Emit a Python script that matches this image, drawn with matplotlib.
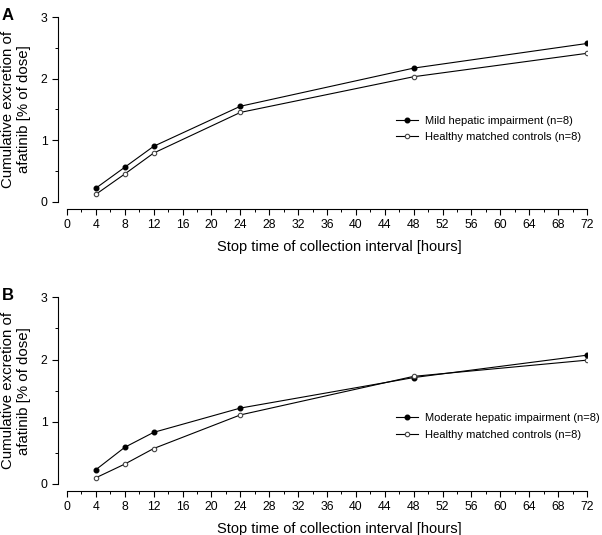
import matplotlib
matplotlib.use("Agg")
import matplotlib.pyplot as plt
from matplotlib.ticker import MultipleLocator

plt.rcParams["font.family"] = ["Liberation Sans", "DejaVu Sans"]

# Data
hours = [4, 8, 12, 24, 48, 72]
mild = [0.22, 0.56, 0.90, 1.55, 2.17, 2.57]
healthy_a = [0.12, 0.45, 0.79, 1.45, 2.03, 2.41]
moderate = [0.23, 0.59, 0.83, 1.22, 1.71, 2.07]
healthy_b = [0.10, 0.32, 0.57, 1.11, 1.73, 1.99]

label_a = "Mild hepatic impairment (n=8)"
label_b = "Moderate hepatic impairment (n=8)"
label_ctrl = "Healthy matched controls (n=8)"
x_ticks = list(range(0, 73, 4))
y_ticks = [0, 1, 2, 3]

W, H = 602, 535


def draw_panel(ax, impaired, controls, imp_label, letter, leg_y):
    ax.plot(hours, impaired, color="black", lw=0.8, marker="o", ms=3.3,
            mfc="black", mec="black", label=imp_label, zorder=3)
    ax.plot(hours, controls, color="black", lw=0.8, marker="o", ms=3.2,
            mfc="white", mec="#444444", mew=0.8, label=label_ctrl, zorder=3)

    ax.set_xlim(0, 72)
    ax.set_ylim(0, 3)
    ax.set_xticks(x_ticks)
    ax.set_yticks(y_ticks)
    ax.xaxis.set_minor_locator(MultipleLocator(2))
    ax.yaxis.set_minor_locator(MultipleLocator(0.5))
    ax.tick_params(axis="both", which="major", direction="out", length=4,
                   width=0.8, labelsize=8.8, pad=3.5)
    ax.tick_params(axis="both", which="minor", direction="out", length=2,
                   width=0.7)

    for side in ["top", "right"]:
        ax.spines[side].set_visible(False)
    ax.spines["left"].set_position(("outward", 6.5))
    ax.spines["bottom"].set_position(("outward", 5))
    ax.spines["left"].set_linewidth(0.8)
    ax.spines["bottom"].set_linewidth(0.8)

    ax.set_xlabel("Stop time of collection interval [hours]", fontsize=10.5)
    ax.xaxis.set_label_coords(0.524, -0.205)
    ax.set_ylabel("Cumulative excretion of\nafatinib [% of dose]",
                  fontsize=10.8, linespacing=1.1)
    ax.yaxis.set_label_coords(-0.070, 0.5)

    ax.legend(loc="center left", bbox_to_anchor=(0.625, leg_y), frameon=False,
              fontsize=8, handlelength=1.9, handletextpad=0.7,
              labelspacing=0.6, borderaxespad=0.0)

    ax.text(-0.125, 1.05, letter, transform=ax.transAxes, fontsize=12,
            fontweight="bold", va="top", ha="left")


fig = plt.figure(figsize=(W / 100, H / 100), dpi=100)
ax_a = fig.add_axes([67 / W, (H - 201.7) / H, 520 / W, 184.7 / H])
ax_b = fig.add_axes([67 / W, (H - 484) / H, 520 / W, 186.7 / H])

draw_panel(ax_a, mild, healthy_a, label_a, "A", 0.394)
draw_panel(ax_b, moderate, healthy_b, label_b, "B", 0.308)

fig.savefig("out.png", dpi=100)
